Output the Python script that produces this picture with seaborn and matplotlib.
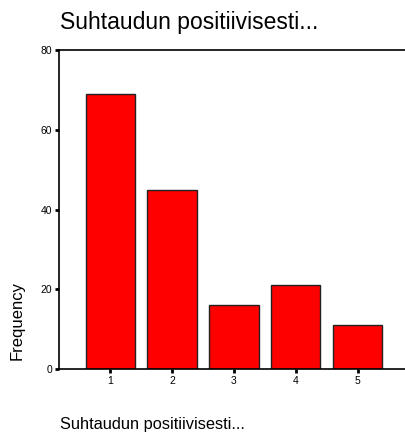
import matplotlib
matplotlib.use("Agg")
import matplotlib.pyplot as plt
import seaborn as sns
import pandas as pd

categories = ["1", "2", "3", "4", "5"]
frequencies = [69, 45, 16, 21, 11]
title = "Suhtaudun positiivisesti..."
xlabel = "Suhtaudun positiivisesti..."
ylabel = "Frequency"
yticks = [0, 20, 40, 60, 80]

sns.set_theme(style="white")
plt.rcParams['font.family'] = ['Liberation Sans', 'DejaVu Sans']
plt.rcParams['text.color'] = 'black'

df = pd.DataFrame({"cat": categories, "freq": frequencies})

fig = plt.figure(figsize=(4.06, 4.32), dpi=100)
ax = fig.add_axes([59/406, 63/432, 1 - 59/406 + 0.01, 319/432])
sns.barplot(data=df, x="cat", y="freq", color="#ff0000", edgecolor="#222222",
            linewidth=1.0, width=0.8, saturation=1, ax=ax)
ax.set_xlim(-0.83, 4.85)
ax.set_ylim(0, 80)
ax.set_yticks(yticks)
ax.set_yticklabels([str(v) for v in yticks], fontsize=7.5)
ax.tick_params(axis='both', which='both', direction='out', length=3, width=2,
               labelsize=7.5, pad=2, colors='black', labelcolor='black',
               bottom=True, left=True)
ax.set_xlabel("")
ax.set_ylabel("")
for s in ["left", "bottom", "top"]:
    ax.spines[s].set_visible(True)
    ax.spines[s].set_color("black")
    ax.spines[s].set_linewidth(1.2)
ax.spines["right"].set_visible(False)

fig.text(60/406, 1 - 22/432, title, fontsize=16.5, ha='left', va='center', color='black')
fig.text(60/406, 1 - 425/432, xlabel, fontsize=11.8, ha='left', va='center', color='black')
fig.text(17.5/406, 1 - 321/432, ylabel, fontsize=12, ha='center', va='center', rotation=90, color='black')

fig.savefig("out.png", dpi=100)
